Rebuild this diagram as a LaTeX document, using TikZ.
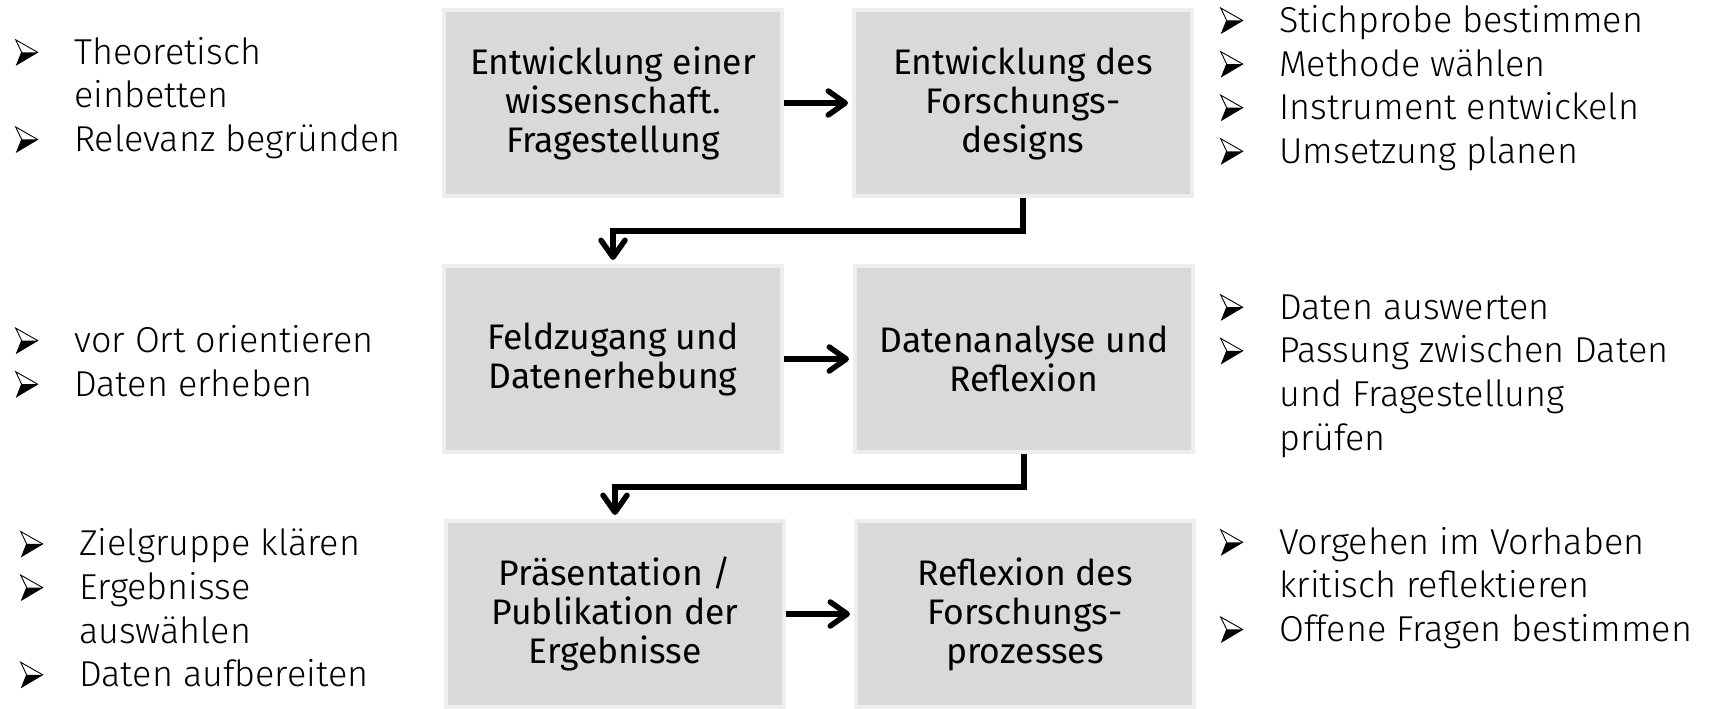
\documentclass[tikz,border=0pt]{standalone}
\usepackage{fontspec}
\setmainfont{Fira Sans}
\newfontfamily\boxfont{Fira Sans}
\newfontfamily\lightfont{Fira Sans Light}
\usetikzlibrary{arrows.meta,calc}
\definecolor{boxfill}{HTML}{D9D9D9}
\definecolor{boxedge}{HTML}{EEEEEE}
\newcommand\arrowsym{\smash{\tikz[x=1pt,y=1pt,baseline=0pt]{%
  \draw[line width=0.9pt,line join=miter,fill=white] (0,24.5) -- (22,12) -- (1,-0.5) -- (6,12) -- cycle;
  \fill[black] (6,12) -- (22,12) -- (1,-0.5) -- cycle;}}}
\newcommand\bitem{\makebox[59pt][l]{\arrowsym}}
\newcommand\bcont{\hspace*{59pt}}
\begin{document}
\begin{tikzpicture}[x=1pt,y=-1pt,
  stepbox/.style={draw=boxedge, line width=4pt, fill=boxfill, minimum width=338pt, minimum height=186pt, inner sep=0pt, align=center, font=\boxfont\fontsize{35.5}{39}\selectfont, text=black},
  bullets/.style={anchor=west, align=left, inner sep=0pt, font=\lightfont\fontsize{36}{43.6}\selectfont},
  flow/.style={line width=5.5pt, -{Straight Barb[length=17pt,width=24pt,round]}, shorten >=4pt}]
\useasboundingbox (0,0) rectangle (1711,709);
\node[stepbox] (b1) at (613,103) {Entwicklung einer\\wissenschaft.\\Fragestellung};
\node[stepbox] (b2) at (1023,103) {Entwicklung des\\Forschungs-\\designs};
\node[stepbox] (b3) at (613,359) {Feldzugang und\\Datenerhebung};
\node[stepbox] (b4) at (1024,359) {Datenanalyse und\\Reflexion};
\node[stepbox] (b5) at (615,614) {Präsentation /\\Publikation der\\Ergebnisse};
\node[stepbox] (b6) at (1025,614) {Reflexion des\\Forschungs-\\prozesses};
\draw[flow] (b1) -- (b2);
\draw[flow] (b3) -- (b4);
\draw[flow] (b5) -- (b6);
\draw[flow] (b2.south) -- ++(0,33) -| (b3.north);
\draw[flow] (b4.south) -- ++(0,33) -| (b5.north);
\node[bullets] (l1) at (15,98) {\bitem Theoretisch\\\bcont einbetten\\\bitem Relevanz begründen};
\node[bullets] (r1) at (1220,88) {\bitem Stichprobe bestimmen\\\bitem Methode wählen\\\bitem Instrument entwickeln\\\bitem Umsetzung planen};
\node[bullets] (l2) at (15,361) {\bitem vor Ort orientieren\\\bitem Daten erheben};
\node[bullets] (r2) at (1220,376) {\bitem Daten auswerten\\\bitem Passung zwischen Daten\\\bcont und Fragestellung\\\bcont prüfen};
\node[bullets] (l3) at (20,608) {\bitem Zielgruppe klären\\\bitem Ergebnisse\\\bcont auswählen\\\bitem Daten aufbereiten};
\node[bullets] (r3) at (1220,588) {\bitem Vorgehen im Vorhaben\\\bcont kritisch reflektieren\\\bitem Offene Fragen bestimmen};
\end{tikzpicture}
\end{document}
